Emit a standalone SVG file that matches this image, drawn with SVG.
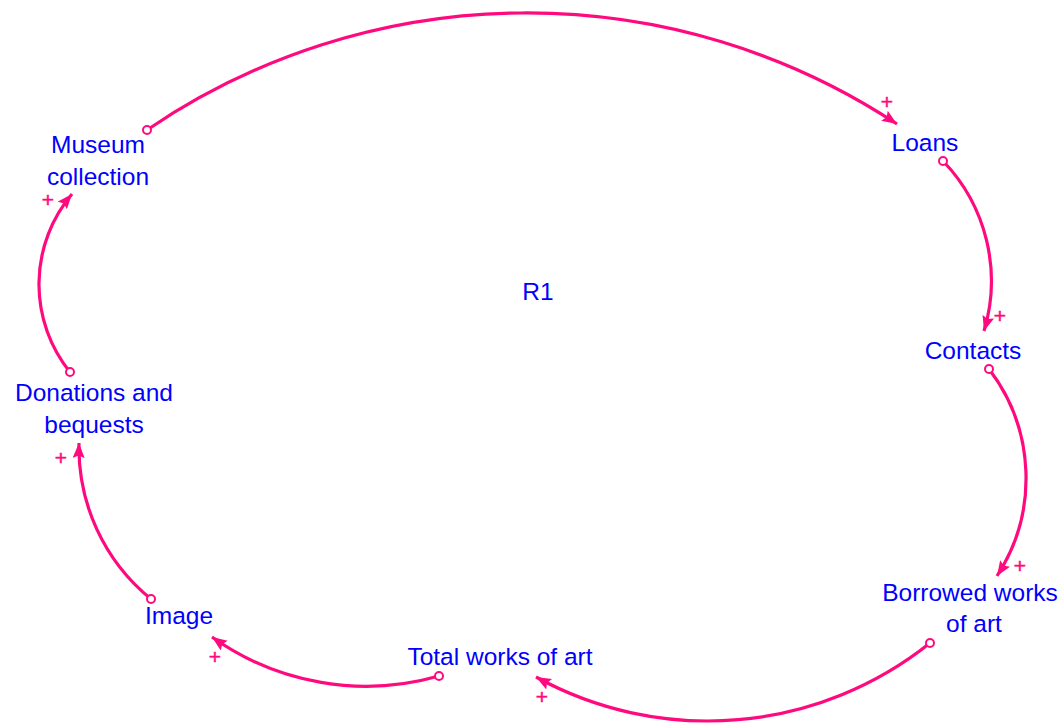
<svg xmlns="http://www.w3.org/2000/svg" width="1062" height="724" viewBox="0 0 1062 724">
<style>
.lbl{font-family:"Liberation Sans",Arial,sans-serif;font-size:24.5px;fill:#0000FF;text-anchor:middle}
.lnk{fill:none;stroke:#FF0A7E;stroke-width:3.2;marker-end:url(#ah)}
.tail{fill:#fff;stroke:#FF0A7E;stroke-width:2}
.pol{font-family:"Liberation Sans",Arial,sans-serif;font-size:21px;fill:#FF0A7E;stroke:#FF0A7E;stroke-width:0.5;text-anchor:middle}
</style>
<defs>
<marker id="ah" markerUnits="userSpaceOnUse" markerWidth="18" markerHeight="14" refX="15" refY="6" orient="auto">
<path d="M0,0 L15,6 L0,12 L2.5,6 z" fill="#FF0A7E"/>
</marker>
</defs>
<rect width="1062" height="724" fill="#fff"/>
<g id="connectors">
<path class="lnk" d="M147,130 A673.7,673.7 0 0 1 897,124"/>
<path class="lnk" d="M943,161 A173,173 0 0 1 984,331"/>
<path class="lnk" d="M989,369 A179.4,179.4 0 0 1 997,576"/>
<path class="lnk" d="M930,643 A356.3,356.3 0 0 1 536,677"/>
<path class="lnk" d="M439,676 A265.7,265.7 0 0 1 212,637"/>
<path class="lnk" d="M151,599 A195,195 0 0 1 79,443"/>
<path class="lnk" d="M70,372 A139.7,139.7 0 0 1 72,194"/>
<circle class="tail" cx="147" cy="130" r="4"/>
<circle class="tail" cx="943" cy="161" r="4"/>
<circle class="tail" cx="989" cy="369" r="4"/>
<circle class="tail" cx="930" cy="643" r="4"/>
<circle class="tail" cx="439" cy="676" r="4"/>
<circle class="tail" cx="151" cy="599" r="4"/>
<circle class="tail" cx="70" cy="372" r="4"/>
<text class="pol" x="887" y="109">+</text>
<text class="pol" x="1000" y="323">+</text>
<text class="pol" x="1020" y="573">+</text>
<text class="pol" x="542" y="704">+</text>
<text class="pol" x="215" y="664">+</text>
<text class="pol" x="61" y="465">+</text>
<text class="pol" x="48" y="207">+</text>
</g>
<g id="museum-collection"><text class="lbl" x="98" y="153">Museum</text><text class="lbl" x="98" y="185">collection</text></g>
<g id="loans"><text class="lbl" x="925" y="151">Loans</text></g>
<g id="contacts"><text class="lbl" x="973" y="359">Contacts</text></g>
<g id="borrowed-works"><text class="lbl" x="970" y="601">Borrowed works</text><text class="lbl" x="974" y="632">of art</text></g>
<g id="total-works"><text class="lbl" x="500" y="665">Total works of art</text></g>
<g id="image"><text class="lbl" x="179" y="624">Image</text></g>
<g id="donations"><text class="lbl" x="94" y="401">Donations and</text><text class="lbl" x="94" y="433">bequests</text></g>
<g id="r1"><text class="lbl" x="538" y="300">R1</text></g>
</svg>
